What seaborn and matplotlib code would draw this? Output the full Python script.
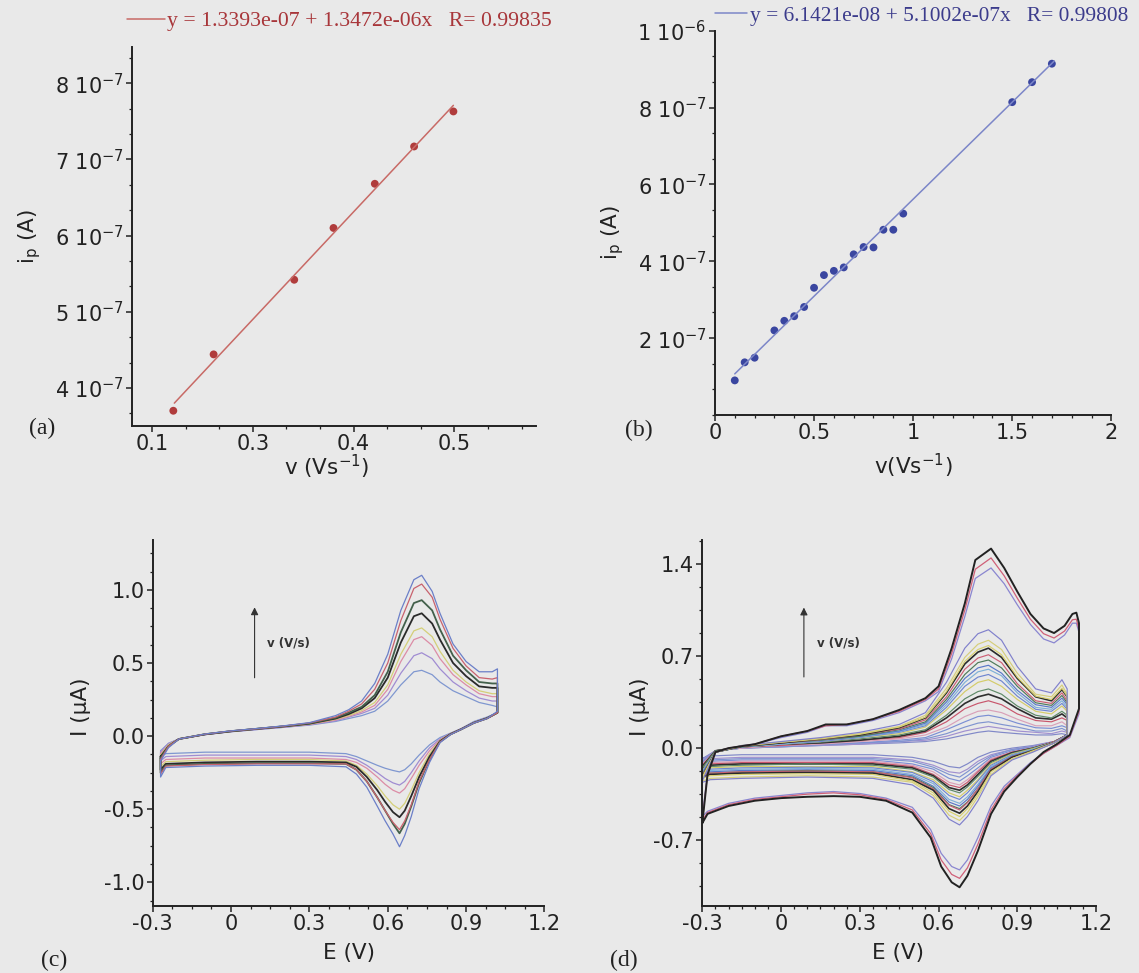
import matplotlib
matplotlib.use('Agg')
import matplotlib.pyplot as plt
from matplotlib.ticker import AutoMinorLocator
import seaborn as sns


# Config
BG = '#e9e9e9'
INK = '#222222'
DPI = 100

# ---- (a) peak current vs scan rate ----
a_v = [0.221, 0.261, 0.341, 0.380, 0.421, 0.460, 0.499]
a_ip = [3.70e-7, 4.44e-7, 5.42e-7, 6.10e-7, 6.68e-7, 7.17e-7, 7.63e-7]
a_fit_v = [0.222, 0.499]
a_fit_ip = [3.80e-7, 7.71e-7]
a_fit_label = 'y = 1.3393e-07 + 1.3472e-06x   R= 0.99835'
a_xticks = [0.2, 0.3, 0.4, 0.5]
a_xticklabels = ['0.1', '0.3', '0.4', '0.5']
a_yticks = [4e-7, 5e-7, 6e-7, 7e-7, 8e-7]
a_yticklabels = [r'4 10$^{\mathregular{-7}}$', r'5 10$^{\mathregular{-7}}$', r'6 10$^{\mathregular{-7}}$',
                 r'7 10$^{\mathregular{-7}}$', r'8 10$^{\mathregular{-7}}$']

# ---- (b) peak current vs scan rate ----
b_v = [0.1, 0.15, 0.2, 0.3, 0.35, 0.4, 0.45, 0.5, 0.55, 0.6, 0.65, 0.7, 0.75, 0.8, 0.85, 0.9, 0.95, 1.5, 1.6, 1.7]
b_ip = [0.90e-7, 1.37e-7, 1.49e-7, 2.20e-7, 2.45e-7, 2.57e-7, 2.81e-7, 3.31e-7, 3.64e-7, 3.75e-7,
        3.84e-7, 4.18e-7, 4.37e-7, 4.36e-7, 4.82e-7, 4.82e-7, 5.24e-7, 8.14e-7, 8.66e-7, 9.14e-7]
b_fit_v = [0.1, 1.712]
b_fit_ip = [1.07e-7, 9.21e-7]
b_fit_label = 'y = 6.1421e-08 + 5.1002e-07x   R= 0.99808'
b_xticks = [0, 0.5, 1, 1.5, 2]
b_xticklabels = ['0', '0.5', '1', '1.5', '2']
b_yticks = [2e-7, 4e-7, 6e-7, 8e-7, 1e-6]
b_yticklabels = [r'2 10$^{\mathregular{-7}}$', r'4 10$^{\mathregular{-7}}$', r'6 10$^{\mathregular{-7}}$',
                 r'8 10$^{\mathregular{-7}}$', r'1 10$^{\mathregular{-6}}$']

# ---- (c) cyclic voltammograms, 8 scan rates ----
c_fwd_E = [-0.27, -0.24, -0.2, -0.1, 0.0, 0.1, 0.2, 0.3, 0.4, 0.45, 0.5, 0.55, 0.6, 0.65, 0.7, 0.73, 0.77,
           0.8, 0.85, 0.9, 0.95, 1.0, 1.02]
c_fwd_I = [
    [-0.10, -0.05, -0.02, 0.01, 0.03, 0.045, 0.06, 0.075, 0.10, 0.12, 0.14, 0.17, 0.24, 0.35, 0.44, 0.45, 0.42, 0.37, 0.31, 0.27, 0.23, 0.21, 0.20],
    [-0.11, -0.05, -0.02, 0.01, 0.03, 0.045, 0.06, 0.078, 0.105, 0.13, 0.155, 0.19, 0.28, 0.43, 0.55, 0.57, 0.53, 0.46, 0.37, 0.31, 0.26, 0.24, 0.24],
    [-0.12, -0.06, -0.02, 0.012, 0.032, 0.048, 0.063, 0.08, 0.11, 0.135, 0.165, 0.21, 0.32, 0.51, 0.66, 0.68, 0.62, 0.53, 0.42, 0.35, 0.29, 0.27, 0.27],
    [-0.13, -0.06, -0.02, 0.012, 0.032, 0.05, 0.065, 0.082, 0.115, 0.14, 0.175, 0.23, 0.35, 0.56, 0.72, 0.74, 0.68, 0.58, 0.45, 0.37, 0.31, 0.29, 0.29],
    [-0.14, -0.07, -0.02, 0.012, 0.033, 0.05, 0.066, 0.085, 0.12, 0.15, 0.19, 0.26, 0.40, 0.64, 0.82, 0.84, 0.77, 0.66, 0.50, 0.41, 0.34, 0.33, 0.33],
    [-0.15, -0.07, -0.02, 0.013, 0.034, 0.05, 0.067, 0.087, 0.125, 0.16, 0.20, 0.28, 0.44, 0.71, 0.91, 0.93, 0.86, 0.73, 0.55, 0.45, 0.37, 0.36, 0.36],
    [-0.16, -0.07, -0.02, 0.013, 0.035, 0.05, 0.068, 0.09, 0.13, 0.17, 0.22, 0.32, 0.50, 0.79, 1.01, 1.04, 0.95, 0.80, 0.60, 0.48, 0.40, 0.39, 0.40],
    [-0.17, -0.08, -0.02, 0.014, 0.036, 0.052, 0.07, 0.092, 0.14, 0.18, 0.24, 0.36, 0.56, 0.86, 1.07, 1.10, 0.99, 0.84, 0.63, 0.51, 0.44, 0.44, 0.46],
]
c_rev_E = [1.02, 0.98, 0.93, 0.88, 0.84, 0.8, 0.76, 0.72, 0.69, 0.665, 0.645, 0.62, 0.59, 0.56, 0.52, 0.48,
           0.44, 0.3, 0.1, -0.1, -0.25, -0.27]
c_rev_I = [
    [0.16, 0.13, 0.10, 0.05, 0.02, -0.01, -0.06, -0.13, -0.19, -0.23, -0.245, -0.235, -0.22, -0.20, -0.17, -0.14, -0.12, -0.11, -0.11, -0.11, -0.12, -0.14],
    [0.16, 0.125, 0.095, 0.05, 0.018, -0.02, -0.08, -0.17, -0.25, -0.31, -0.335, -0.32, -0.29, -0.25, -0.2, -0.16, -0.14, -0.13, -0.13, -0.13, -0.14, -0.17],
    [0.16, 0.125, 0.093, 0.048, 0.016, -0.025, -0.1, -0.2, -0.29, -0.36, -0.39, -0.37, -0.33, -0.28, -0.22, -0.18, -0.16, -0.15, -0.15, -0.15, -0.16, -0.19],
    [0.16, 0.123, 0.092, 0.047, 0.014, -0.03, -0.12, -0.25, -0.37, -0.46, -0.50, -0.47, -0.41, -0.34, -0.26, -0.2, -0.17, -0.16, -0.16, -0.165, -0.175, -0.21],
    [0.16, 0.122, 0.091, 0.046, 0.013, -0.035, -0.14, -0.28, -0.41, -0.51, -0.555, -0.52, -0.45, -0.37, -0.28, -0.21, -0.18, -0.175, -0.175, -0.18, -0.19, -0.23],
    [0.16, 0.121, 0.09, 0.045, 0.012, -0.04, -0.16, -0.32, -0.48, -0.6, -0.665, -0.6, -0.51, -0.42, -0.31, -0.23, -0.19, -0.185, -0.185, -0.19, -0.2, -0.25],
    [0.16, 0.12, 0.09, 0.045, 0.011, -0.04, -0.16, -0.31, -0.47, -0.58, -0.64, -0.59, -0.51, -0.42, -0.31, -0.23, -0.19, -0.19, -0.19, -0.195, -0.205, -0.26],
    [0.17, 0.12, 0.09, 0.045, 0.01, -0.045, -0.18, -0.36, -0.55, -0.68, -0.757, -0.67, -0.58, -0.48, -0.35, -0.26, -0.21, -0.2, -0.2, -0.205, -0.215, -0.28],
]
c_colors = ['#7f97d0', '#a08cd2', '#dc8ca6', '#d4cf78', '#2a2a2a', '#43604b', '#c8626e', '#6b7fc8']

# ---- (d) cyclic voltammograms, 18 + 3 scan rates ----
d_mid_fwd_E = [-0.3, -0.25, -0.15, 0.0, 0.15, 0.3, 0.45, 0.55, 0.63, 0.7, 0.75, 0.79, 0.84, 0.9, 0.97, 1.03, 1.07, 1.09]
d_mid_fwd_I = [
    [-0.08, -0.02, 0.0, 0.01, 0.02, 0.03, 0.04, 0.05, 0.07, 0.10, 0.12, 0.13, 0.12, 0.11, 0.10, 0.10, 0.11, 0.10],
    [-0.09, -0.02, 0.0, 0.01, 0.02, 0.03, 0.05, 0.06, 0.09, 0.13, 0.15, 0.165, 0.15, 0.13, 0.12, 0.11, 0.13, 0.12],
    [-0.10, -0.02, 0.0, 0.01, 0.025, 0.04, 0.05, 0.07, 0.11, 0.16, 0.19, 0.20, 0.18, 0.16, 0.13, 0.13, 0.15, 0.13],
    [-0.11, -0.02, 0.0, 0.02, 0.03, 0.04, 0.06, 0.08, 0.14, 0.20, 0.24, 0.25, 0.23, 0.19, 0.155, 0.15, 0.17, 0.155],
    [-0.12, -0.02, 0.0, 0.02, 0.03, 0.05, 0.07, 0.10, 0.16, 0.24, 0.28, 0.29, 0.27, 0.22, 0.17, 0.17, 0.20, 0.17],
    [-0.13, -0.02, 0.01, 0.02, 0.04, 0.06, 0.08, 0.12, 0.20, 0.30, 0.34, 0.36, 0.33, 0.26, 0.21, 0.20, 0.23, 0.21],
    [-0.14, -0.02, 0.01, 0.03, 0.04, 0.06, 0.09, 0.13, 0.23, 0.34, 0.39, 0.41, 0.375, 0.30, 0.23, 0.22, 0.26, 0.23],
    [-0.15, -0.02, 0.01, 0.03, 0.045, 0.07, 0.10, 0.14, 0.25, 0.375, 0.43, 0.45, 0.41, 0.32, 0.25, 0.23, 0.28, 0.25],
    [-0.17, -0.03, 0.01, 0.03, 0.05, 0.08, 0.11, 0.16, 0.29, 0.43, 0.50, 0.52, 0.47, 0.37, 0.28, 0.26, 0.32, 0.28],
    [-0.175, -0.03, 0.01, 0.03, 0.05, 0.08, 0.12, 0.17, 0.31, 0.47, 0.54, 0.56, 0.51, 0.395, 0.295, 0.28, 0.34, 0.295],
    [-0.18, -0.03, 0.01, 0.03, 0.06, 0.085, 0.125, 0.18, 0.33, 0.50, 0.58, 0.60, 0.55, 0.42, 0.31, 0.295, 0.36, 0.31],
    [-0.19, -0.03, 0.01, 0.04, 0.06, 0.09, 0.13, 0.19, 0.35, 0.53, 0.61, 0.63, 0.57, 0.44, 0.33, 0.31, 0.38, 0.33],
    [-0.20, -0.03, 0.01, 0.04, 0.06, 0.09, 0.14, 0.20, 0.37, 0.56, 0.65, 0.67, 0.61, 0.47, 0.345, 0.325, 0.40, 0.345],
    [-0.21, -0.03, 0.015, 0.04, 0.065, 0.10, 0.145, 0.215, 0.39, 0.60, 0.685, 0.71, 0.65, 0.49, 0.36, 0.34, 0.42, 0.36],
    [-0.22, -0.03, 0.015, 0.04, 0.07, 0.10, 0.155, 0.23, 0.42, 0.64, 0.73, 0.76, 0.69, 0.53, 0.39, 0.36, 0.445, 0.39],
    [-0.22, -0.03, 0.015, 0.045, 0.07, 0.105, 0.16, 0.235, 0.43, 0.66, 0.75, 0.78, 0.71, 0.54, 0.395, 0.37, 0.455, 0.395],
    [-0.23, -0.03, 0.02, 0.045, 0.075, 0.11, 0.165, 0.25, 0.455, 0.69, 0.79, 0.82, 0.75, 0.57, 0.41, 0.39, 0.48, 0.41],
    [-0.25, -0.03, 0.02, 0.05, 0.08, 0.12, 0.18, 0.27, 0.50, 0.76, 0.87, 0.90, 0.82, 0.62, 0.45, 0.42, 0.52, 0.45],
]
d_mid_rev_E = [1.09, 1.04, 0.96, 0.88, 0.8, 0.75, 0.71, 0.68, 0.64, 0.58, 0.5, 0.35, 0.1, -0.15, -0.27, -0.3]
d_mid_rev_I = [
    [0.10, 0.05, 0.02, 0.0, -0.03, -0.07, -0.12, -0.15, -0.14, -0.10, -0.07, -0.05, -0.05, -0.05, -0.06, -0.08],
    [0.10, 0.05, 0.015, -0.01, -0.05, -0.10, -0.16, -0.19, -0.18, -0.13, -0.09, -0.07, -0.07, -0.07, -0.08, -0.10],
    [0.10, 0.05, 0.01, -0.01, -0.06, -0.12, -0.18, -0.22, -0.20, -0.145, -0.10, -0.08, -0.08, -0.08, -0.09, -0.11],
    [0.10, 0.05, 0.01, -0.02, -0.07, -0.15, -0.21, -0.25, -0.23, -0.16, -0.12, -0.09, -0.09, -0.09, -0.10, -0.12],
    [0.10, 0.05, 0.005, -0.03, -0.08, -0.17, -0.24, -0.28, -0.26, -0.18, -0.13, -0.10, -0.10, -0.10, -0.11, -0.13],
    [0.10, 0.05, 0.0, -0.03, -0.09, -0.18, -0.26, -0.30, -0.28, -0.20, -0.14, -0.11, -0.11, -0.11, -0.12, -0.14],
    [0.10, 0.045, 0.0, -0.035, -0.10, -0.20, -0.28, -0.32, -0.30, -0.21, -0.15, -0.12, -0.12, -0.12, -0.13, -0.15],
    [0.10, 0.045, 0.0, -0.04, -0.11, -0.215, -0.295, -0.34, -0.315, -0.22, -0.16, -0.13, -0.12, -0.13, -0.14, -0.16],
    [0.10, 0.045, -0.005, -0.045, -0.12, -0.24, -0.32, -0.37, -0.34, -0.24, -0.18, -0.14, -0.14, -0.14, -0.15, -0.17],
    [0.10, 0.045, -0.01, -0.05, -0.13, -0.25, -0.34, -0.39, -0.36, -0.255, -0.185, -0.15, -0.145, -0.15, -0.16, -0.18],
    [0.10, 0.045, -0.01, -0.055, -0.14, -0.275, -0.37, -0.42, -0.39, -0.27, -0.20, -0.16, -0.155, -0.16, -0.17, -0.19],
    [0.10, 0.045, -0.015, -0.06, -0.15, -0.29, -0.39, -0.44, -0.41, -0.29, -0.21, -0.17, -0.165, -0.17, -0.18, -0.20],
    [0.10, 0.045, -0.015, -0.065, -0.16, -0.31, -0.41, -0.46, -0.43, -0.30, -0.22, -0.18, -0.17, -0.18, -0.19, -0.21],
    [0.10, 0.045, -0.02, -0.065, -0.16, -0.31, -0.415, -0.47, -0.435, -0.31, -0.225, -0.18, -0.175, -0.18, -0.19, -0.21],
    [0.10, 0.04, -0.02, -0.07, -0.17, -0.33, -0.44, -0.495, -0.46, -0.32, -0.24, -0.19, -0.185, -0.19, -0.20, -0.22],
    [0.10, 0.04, -0.02, -0.08, -0.18, -0.35, -0.46, -0.52, -0.48, -0.34, -0.25, -0.20, -0.195, -0.20, -0.21, -0.23],
    [0.10, 0.04, -0.025, -0.08, -0.20, -0.37, -0.49, -0.55, -0.51, -0.36, -0.26, -0.22, -0.21, -0.22, -0.23, -0.25],
    [0.10, 0.04, -0.03, -0.09, -0.21, -0.40, -0.52, -0.584, -0.54, -0.38, -0.28, -0.23, -0.22, -0.23, -0.24, -0.26],
]
d_mid_colors = ['#8088c8', '#a090d0', '#8094d0', '#7b8fd4', '#d9a0b8', '#c8566c', '#2e2e2e', '#5f8a68', '#d4cc6a',
                '#6f86d0', '#7fb0d8', '#5a78c8', '#4f7a5a', '#cc5f75', '#2a2a2a', '#d8d06e', '#d6ce7a', '#8080cc']

d_big_fwd_E = [-0.3, -0.28, -0.25, -0.2, -0.1, 0.0, 0.1, 0.17, 0.25, 0.35, 0.45, 0.55, 0.6, 0.65, 0.7, 0.74, 0.8,
               0.85, 0.9, 0.95, 1.0, 1.04, 1.08, 1.11, 1.125, 1.135]
d_big_fwd_I = [
    [-0.52, -0.19, -0.03, 0.0, 0.03, 0.08, 0.12, 0.17, 0.17, 0.21, 0.27, 0.36, 0.43, 0.68, 1.0, 1.29, 1.37, 1.25, 1.09, 0.94, 0.83, 0.80, 0.86, 0.95, 0.95, 0.88],
    [-0.55, -0.2, -0.03, 0.0, 0.03, 0.09, 0.13, 0.17, 0.18, 0.22, 0.28, 0.37, 0.45, 0.72, 1.05, 1.36, 1.446, 1.31, 1.14, 0.98, 0.87, 0.837, 0.89, 0.976, 0.98, 0.90],
    [-0.57, -0.2, -0.03, 0.0, 0.03, 0.09, 0.13, 0.18, 0.18, 0.22, 0.29, 0.38, 0.47, 0.76, 1.10, 1.43, 1.517, 1.37, 1.19, 1.02, 0.91, 0.875, 0.93, 1.02, 1.03, 0.95],
]
d_big_rev_E = [1.135, 1.1, 1.05, 1.0, 0.95, 0.9, 0.85, 0.8, 0.75, 0.71, 0.68, 0.65, 0.61, 0.57, 0.5, 0.4, 0.3,
               0.2, 0.1, 0.0, -0.1, -0.2, -0.28, -0.3]
d_big_rev_I = [
    [0.26, 0.08, 0.02, -0.04, -0.11, -0.20, -0.29, -0.44, -0.68, -0.85, -0.926, -0.90, -0.80, -0.62, -0.45, -0.38, -0.345, -0.33, -0.34, -0.36, -0.38, -0.42, -0.48, -0.52],
    [0.28, 0.09, 0.02, -0.04, -0.12, -0.21, -0.31, -0.47, -0.73, -0.91, -0.99, -0.96, -0.85, -0.65, -0.47, -0.39, -0.355, -0.34, -0.35, -0.37, -0.39, -0.43, -0.49, -0.55],
    [0.30, 0.10, 0.03, -0.03, -0.12, -0.22, -0.33, -0.50, -0.78, -0.97, -1.058, -1.02, -0.90, -0.68, -0.49, -0.40, -0.37, -0.365, -0.37, -0.38, -0.40, -0.44, -0.50, -0.57],
]
d_big_colors = ['#8a86d0', '#d06078', '#222222']

cv_xticks = [-0.3, 0, 0.3, 0.6, 0.9, 1.2]
cv_xticklabels = ['-0.3', '0', '0.3', '0.6', '0.9', '1.2']
c_yticks = [-1.0, -0.5, 0.0, 0.5, 1.0]
c_yticklabels = ['-1.0', '-0.5', '0.0', '0.5', '1.0']
d_yticks = [-0.7, 0.0, 0.7, 1.4]
d_yticklabels = ['-0.7', '0.0', '0.7', '1.4']


# Plot style
sns.set_theme(style='ticks', rc={'axes.facecolor': BG, 'figure.facecolor': BG})
plt.rcParams['font.family'] = ['DejaVu Sans']
plt.rcParams['axes.unicode_minus'] = False
plt.rcParams['mathtext.fontset'] = 'dejavusans'

TICK_FS = 15
LABEL_FS = 15.5
SERIF = ['Liberation Serif', 'DejaVu Serif']

fig = plt.figure(figsize=(1139 / DPI, 973 / DPI), dpi=DPI)
ax_a = fig.add_axes([0.1159, 0.5622, 0.3547, 0.3898])
ax_b = fig.add_axes([0.6277, 0.5735, 0.3480, 0.3950])
ax_c = fig.add_axes([0.1341, 0.0689, 0.3439, 0.3762])
ax_d = fig.add_axes([0.6166, 0.0689, 0.3457, 0.3762])


def style_axis(ax, xminor, yminor):
    sns.despine(ax=ax)
    for side in ('left', 'bottom'):
        ax.spines[side].set_color(INK)
        ax.spines[side].set_linewidth(1.4)
    ax.tick_params(which='major', direction='out', length=4, width=1.1, color=INK,
                   labelsize=TICK_FS, labelcolor=INK, pad=2)
    ax.tick_params(which='minor', direction='out', length=2.2, width=0.9, color=INK)
    ax.xaxis.set_minor_locator(AutoMinorLocator(xminor))
    ax.yaxis.set_minor_locator(AutoMinorLocator(yminor))
    ax.set_facecolor(BG)


# (a)
sns.lineplot(x=a_fit_v, y=a_fit_ip, color='#c86a66', lw=1.1, ax=ax_a, label=a_fit_label)
sns.scatterplot(x=a_v, y=a_ip, color='#b03c3c', s=32, edgecolor='none', ax=ax_a)
ax_a.set_xlim(0.180, 0.581)
ax_a.set_ylim(3.50e-7, 8.48e-7)
ax_a.set_xticks(a_xticks, a_xticklabels)
ax_a.set_yticks(a_yticks, a_yticklabels)
style_axis(ax_a, 3, 3)
ax_a.set_xlabel(r'v (Vs$^{\mathregular{-1}}$)', fontsize=LABEL_FS, color=INK)
ax_a.set_ylabel(r'$\mathregular{i_p}$ (A)', fontsize=LABEL_FS, color=INK)
ax_a.xaxis.set_label_coords(0.483, -0.07)
ax_a.yaxis.set_label_coords(-0.22, 0.50)
ax_a.legend(loc='center left', bbox_to_anchor=(127 / 1139, 1 - 21 / 973), bbox_transform=fig.transFigure,
            frameon=False, handlelength=1.75, handletextpad=0.1, borderpad=0, borderaxespad=0,
            prop={'family': SERIF, 'size': 15.7}, labelcolor='#a8363a')

# (b)
sns.lineplot(x=b_fit_v, y=b_fit_ip, color='#7c86c8', lw=1.1, ax=ax_b, label=b_fit_label)
sns.scatterplot(x=b_v, y=b_ip, color='#3a46a0', s=32, edgecolor='none', ax=ax_b)
ax_b.set_xlim(0, 2)
ax_b.set_ylim(0, 1.0e-6)
ax_b.set_xticks(b_xticks, b_xticklabels)
ax_b.set_yticks(b_yticks, b_yticklabels)
style_axis(ax_b, 5, 3)
ax_b.set_xlabel(r'v(Vs$^{\mathregular{-1}}$)', fontsize=LABEL_FS, color=INK)
ax_b.set_ylabel(r'$\mathregular{i_p}$ (A)', fontsize=LABEL_FS, color=INK)
ax_b.xaxis.set_label_coords(0.50, -0.095)
ax_b.yaxis.set_label_coords(-0.225, 0.474)
ax_b.legend(loc='center left', bbox_to_anchor=(715 / 1139, 1 - 16 / 973), bbox_transform=fig.transFigure,
            frameon=False, handlelength=1.5, handletextpad=0.15, borderpad=0, borderaxespad=0,
            prop={'family': SERIF, 'size': 15.4}, labelcolor='#3c3c8c')

# (c)
for k, col in enumerate(c_colors):
    E = c_fwd_E + c_rev_E + [c_fwd_E[0]]
    I = c_fwd_I[k] + c_rev_I[k] + [c_fwd_I[k][0]]
    lw = 1.3 if col in ('#2a2a2a', '#43604b') else 0.9
    sns.lineplot(x=E, y=I, sort=False, estimator=None, errorbar=None, color=col, lw=lw, ax=ax_c)
ax_c.set_xlim(-0.3, 1.2)
ax_c.set_ylim(-1.162, 1.342)
ax_c.set_xticks(cv_xticks, cv_xticklabels)
ax_c.set_yticks(c_yticks, c_yticklabels)
style_axis(ax_c, 4, 4)
ax_c.set_xlabel('E (V)', fontsize=LABEL_FS, color=INK)
ax_c.set_ylabel('I (μA)', fontsize=LABEL_FS, color=INK)
ax_c.xaxis.set_label_coords(0.50, -0.10)
ax_c.yaxis.set_label_coords(-0.157, 0.544)
ax_c.annotate('', xy=(0.09, 0.90), xytext=(0.09, 0.38),
              arrowprops=dict(arrowstyle='-|>', lw=0.8, color='#333333', mutation_scale=11))
ax_c.text(0.138, 0.636, 'v (V/s)', fontsize=8.5, fontweight='bold', color='#333333', va='center')

# (d)
for k, col in enumerate(d_mid_colors):
    E = d_mid_fwd_E + d_mid_rev_E + [d_mid_fwd_E[0]]
    I = d_mid_fwd_I[k] + d_mid_rev_I[k] + [d_mid_fwd_I[k][0]]
    lw = 1.2 if col in ('#2e2e2e', '#2a2a2a') else 0.85
    sns.lineplot(x=E, y=I, sort=False, estimator=None, errorbar=None, color=col, lw=lw, ax=ax_d)
for k, col in enumerate(d_big_colors):
    E = d_big_fwd_E + d_big_rev_E + [d_big_fwd_E[0]]
    I = d_big_fwd_I[k] + d_big_rev_I[k] + [d_big_fwd_I[k][0]]
    lw = 1.4 if col == '#222222' else 0.9
    sns.lineplot(x=E, y=I, sort=False, estimator=None, errorbar=None, color=col, lw=lw, ax=ax_d)
ax_d.set_xlim(-0.3, 1.2)
ax_d.set_ylim(-1.2, 1.583)
ax_d.set_xticks(cv_xticks, cv_xticklabels)
ax_d.set_yticks(d_yticks, d_yticklabels)
style_axis(ax_d, 6, 4)
ax_d.set_xlabel('E (V)', fontsize=LABEL_FS, color=INK)
ax_d.set_ylabel('I (μA)', fontsize=LABEL_FS, color=INK)
ax_d.xaxis.set_label_coords(0.497, -0.10)
ax_d.yaxis.set_label_coords(-0.133, 0.544)
ax_d.annotate('', xy=(0.087, 1.09), xytext=(0.087, 0.52),
              arrowprops=dict(arrowstyle='-|>', lw=0.8, color='#333333', mutation_scale=11))
ax_d.text(0.136, 0.80, 'v (V/s)', fontsize=8.5, fontweight='bold', color='#333333', va='center')

# Panel letters
for label, (px, py) in {'(a)': (42, 428), '(b)': (639, 430), '(c)': (54, 960), '(d)': (624, 960)}.items():
    fig.text(px / 1139, 1 - py / 973, label, family=SERIF, fontsize=17, color=INK, ha='center', va='center')


# Save fig
fig.savefig('out.png', dpi=DPI, facecolor=BG)
